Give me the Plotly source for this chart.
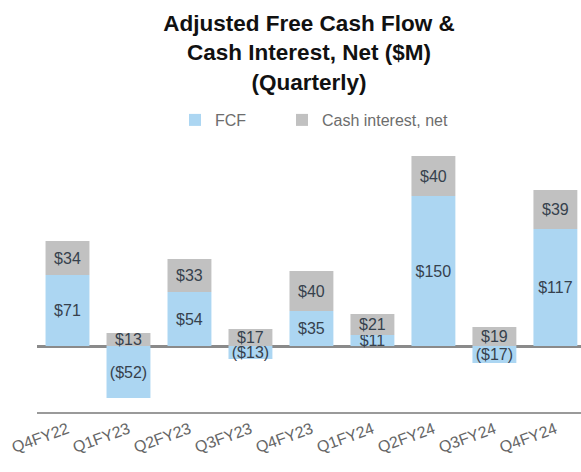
import plotly.graph_objects as go

quarters = ["Q4FY22", "Q1FY23", "Q2FY23", "Q3FY23", "Q4FY23", "Q1FY24", "Q2FY24", "Q3FY24", "Q4FY24"]
fcf = [71, -52, 54, -13, 35, 11, 150, -17, 117]
cash_interest = [34, 13, 33, 17, 40, 21, 40, 19, 39]


def fmt(v):
    return f"(${abs(v)})" if v < 0 else f"${v}"


FONT = "Liberation Sans, Arial, sans-serif"
LABEL_COLOR = "#36414d"
L, R, T, B, W, H = 37, 0, 146, 60, 581, 472
PW = W - L - R
PH = H - T - B

fig = go.Figure()
fig.add_trace(go.Bar(
    name="FCF", x=quarters, y=fcf, legend="legend", showlegend=True,
    marker=dict(color="#acd6f2", line=dict(width=0)),
    text=[fmt(v) for v in fcf], textposition="inside", insidetextanchor="middle",
    textangle=0, constraintext="none",
    textfont=dict(size=16, color=LABEL_COLOR, family=FONT),
))
fig.add_trace(go.Bar(
    name="Cash interest, net", x=quarters, y=cash_interest, legend="legend2", showlegend=True,
    marker=dict(color="#c1c1c1", line=dict(width=0)),
    text=[fmt(v) for v in cash_interest], textposition="inside", insidetextanchor="middle",
    textangle=0, constraintext="none",
    textfont=dict(size=16, color=LABEL_COLOR, family=FONT),
))

legend_common = dict(
    orientation="h", xanchor="left", yanchor="middle", y=1 + 26 / PH,
    font=dict(size=16, color="#6d6d6d", family=FONT), bgcolor="rgba(0,0,0,0)",
    visible=True,
)

fig.update_layout(
    width=W, height=H, showlegend=True,
    barmode="relative", bargap=0.28,
    plot_bgcolor="white", paper_bgcolor="white",
    margin=dict(l=L, r=R, t=T, b=B, autoexpand=False),
    font=dict(family=FONT),
    title=dict(
        text="<b>Adjusted Free Cash Flow &<br>Cash Interest, Net ($M)<br>(Quarterly)</b>",
        font=dict(size=22.5, color="#111111", family=FONT),
        x=0.5, xref="paper", xanchor="center",
        y=1 - 31 / H, yref="container", yanchor="middle",
    ),
    legend=dict(x=(175 - L) / PW, **legend_common),
    legend2=dict(x=(282 - L) / PW, **legend_common),
    xaxis=dict(
        range=[-0.5, 8.42], showline=True, linecolor="#9a9a9a", linewidth=2,
        showgrid=False, ticks="", tickangle=-20, automargin=False,
        tickfont=dict(size=16, color="#666666", family=FONT),
    ),
    yaxis=dict(
        range=[-66, 200], showgrid=False, showticklabels=False, ticks="",
        automargin=False,
        zeroline=True, zerolinecolor="#8a8a8a", zerolinewidth=2.5,
    ),
)

fig.write_html("out.html", config={"displayModeBar": False},
               post_script="document.body.style.margin='0';")
